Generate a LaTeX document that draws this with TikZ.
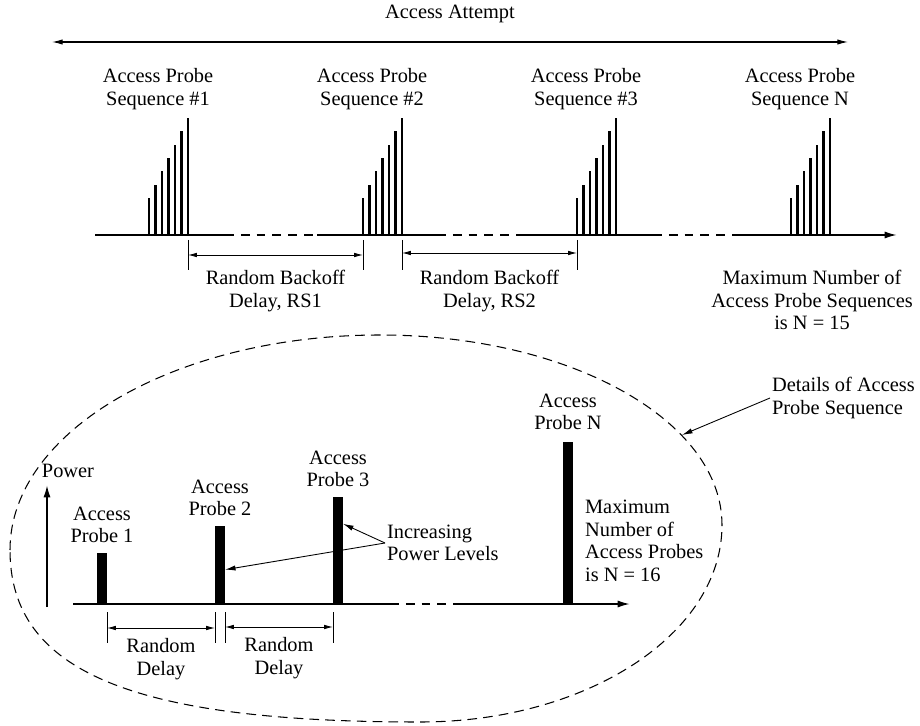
\documentclass[tikz,border=0pt]{standalone}
\usepackage{fontspec}
\setmainfont{Liberation Serif}
\usetikzlibrary{arrows.meta, positioning, calc}

\begin{document}
\begin{tikzpicture}[
  x=0.02cm, y=-0.02cm,
  font=\fontsize{11.6}{12.9}\selectfont,
  lbl/.style={align=center, inner sep=1pt},
  axisline/.style={line width=1pt},
  gapline/.style={line width=1pt, dash pattern=on 5pt off 4pt},
  dim/.style={line width=0.5pt, {Latex[length=5pt, width=2.6pt]}-{Latex[length=5pt, width=2.6pt]}},
  dimtick/.style={line width=0.5pt},
  pulse/.style={line width=1.4pt},
  probe/.style={fill=black, minimum width=0.2cm, inner sep=0pt, outer sep=0pt, anchor=south},
  pointer/.style={line width=0.5pt, -{Latex[length=6pt, width=3pt]}},
  zoomline/.style={line width=0.6pt, dash pattern=on 5.5pt off 3.5pt}
]
\useasboundingbox (0,0) rectangle (920,726);

% access attempt
\node[lbl] (attempt) at (450,14) {Access Attempt};
\coordinate (attL) at (52,42);
\coordinate (attR) at (848,42);
\draw[line width=0.6pt, {Latex[length=6pt, width=3pt]}-{Latex[length=6pt, width=3pt]}] (attL) -- (attR);

% top time axis
\foreach \n/\x in {a/95, b/225, c/317, d/437, e/520, f/653, g/733, h/897}
  \coordinate (t\n) at (\x,235);
\draw[axisline] (ta) -- (tb);
\draw[gapline] (tb) -- (tc);
\draw[axisline] (tc) -- (td);
\draw[gapline] (td) -- (te);
\draw[axisline] (te) -- (tf);
\draw[gapline] (tf) -- (tg);
\draw[axisline, -{Latex[length=7pt, width=4pt]}] (tg) -- (th);

% probe sequences
\foreach \s/\x/\t in {1/149/{\#1}, 2/363/{\#2}, 3/577/{\#3}, N/791/N} {
  \foreach \i in {0,...,6}
    \draw[pulse] (\x+6.5*\i,235) -- ++(0,-37-13.3*\i);
  \coordinate (s\s a) at (\x,235);
  \coordinate (s\s b) at (\x+39,235);
  \node[lbl] (seq\s) at (\x+9,89) {Access Probe\\Sequence \t};
}

% backoff delays
\draw[dimtick] ($(s1b)+(0,5)$) -- ++(0,30);
\draw[dimtick] ($(s2a)+(0,5)$) -- ++(0,30);
\draw[dim] ($(s1b)+(0,20)$) -- ($(s2a)+(0,20)$);
\node[lbl] (rbo1) at ($(s1b)!0.5!(s2a)+(0,56)$) {Random Backoff\\Delay, RS1};
\draw[dimtick] ($(s2b)+(0,5)$) -- ++(0,30);
\draw[dimtick] ($(s3a)+(0,5)$) -- ++(0,30);
\draw[dim] ($(s2b)+(0,18)$) -- ($(s3a)+(0,18)$);
\node[lbl] (rbo2) at ($(s2b)!0.5!(s3a)+(0,56)$) {Random Backoff\\Delay, RS2};

\node[lbl] (maxseq) at (812,300) {Maximum Number of\\Access Probe Sequences\\is N = 15};

% detail of one sequence
\coordinate (eL) at (10,550);
\coordinate (eT) at (380,335);
\coordinate (eR) at (722,525);
\coordinate (eB) at (420,722);
\draw[zoomline] (eL) .. controls (10,431) and (176,335) .. (eT)
  .. controls (569,335) and (722,420) .. (eR)
  .. controls (722,634) and (587,722) .. (eB)
  .. controls (133,722) and (10,672) .. cycle;
\node[lbl, align=left, anchor=west] (details) at (770,398) {Details of Access\\Probe Sequence};
\coordinate (ellpt) at (682,435);
\draw[pointer] (details.west) -- (ellpt);

\coordinate (pwrA) at (47,607);
\coordinate (pwrB) at (47,485);
\draw[line width=1pt, -{Latex[length=7pt, width=4pt]}] (pwrA) -- (pwrB);
\node[lbl] (power) at (68,471) {Power};

\foreach \n/\x in {a/73, b/390, c/453, d/630}
  \coordinate (b\n) at (\x,604);
\draw[axisline] (ba) -- (bb);
\draw[gapline] (bb) -- (bc);
\draw[axisline, -{Latex[length=7pt, width=4pt]}] (bc) -- (bd);

\node[probe, minimum height=1.02cm] (p1) at (102,604) {};
\node[probe, minimum height=1.56cm] (p2) at (220,604) {};
\node[probe, minimum height=2.14cm] (p3) at (338,604) {};
\node[probe, minimum height=3.24cm] (pN) at (568,604) {};
\node[lbl, above=0.16cm of p1] (lp1) {Access\\Probe 1};
\node[lbl, above=0.16cm of p2] (lp2) {Access\\Probe 2};
\node[lbl, above=0.16cm of p3] (lp3) {Access\\Probe 3};
\node[lbl, above=0.2cm of pN] (lpN) {Access\\Probe N};

% random delays
\draw[dimtick] ($(p1.south east)+(0,8)$) -- ++(0,31);
\draw[dimtick] ($(p2.south west)+(0,8)$) -- ++(0,31);
\draw[dim] ($(p1.south east)+(0,24)$) -- ($(p2.south west)+(0,24)$);
\node[lbl] (rd1) at ($(p1.south east)!0.5!(p2.south west)+(0,55)$) {Random\\Delay};
\draw[dimtick] ($(p2.south east)+(0,8)$) -- ++(0,31);
\draw[dimtick] ($(p3.south west)+(0,8)$) -- ++(0,31);
\draw[dim] ($(p2.south east)+(0,23)$) -- ($(p3.south west)+(0,23)$);
\node[lbl] (rd2) at ($(p2.south east)!0.5!(p3.south west)+(0,54)$) {Random\\Delay};

\node[lbl, align=left, anchor=west] (incr) at (385,543) {Increasing\\Power Levels};
\draw[pointer] (incr.west) -- ($(p3.north east)!0.25!(p3.south east)$);
\draw[pointer] (incr.west) -- ($(p2.north east)!0.56!(p2.south east)$);

\node[lbl, align=left, anchor=west] (maxprb) at (583,541) {Maximum\\Number of\\Access Probes\\is N = 16};
\end{tikzpicture}
\end{document}
